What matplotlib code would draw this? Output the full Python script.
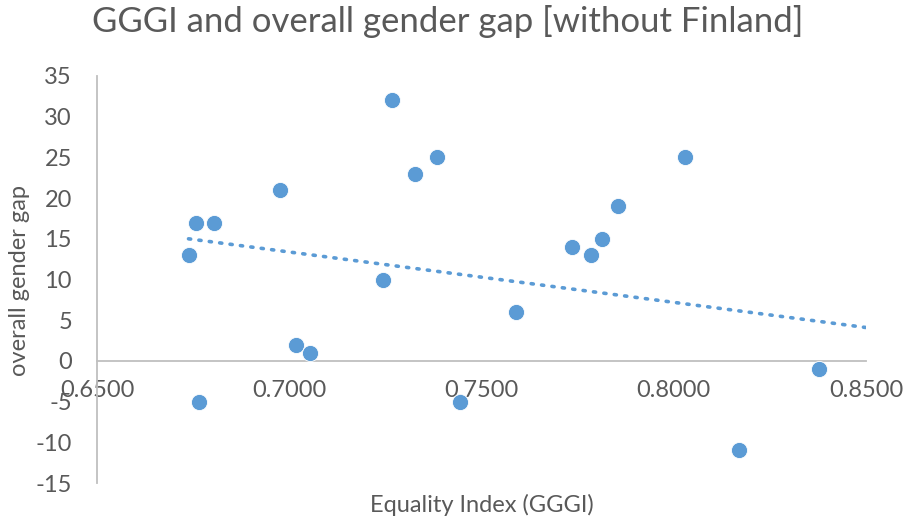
from matplotlib import pyplot as plt

# GGGI score and overall gender gap
gggi = [0.6738, 0.6758, 0.6805, 0.6764, 0.6975, 0.7017, 0.7054, 0.7244, 0.7268, 0.7328,
        0.7385, 0.7445, 0.7591, 0.7735, 0.7785, 0.7813, 0.7855, 0.8030, 0.8171, 0.8377]
gap = [13, 17, 17, -5, 21, 2, 1, 10, 32, 23,
       25, -5, 6, 14, 13, 15, 19, 25, -11, -1]

# linear trendline as drawn in the chart (start and end)
trend_x = [0.6738, 0.85]
trend_y = [15.0, 4.1]

x_ticks = [0.65, 0.70, 0.75, 0.80, 0.85]
y_ticks = [-15, -10, -5, 0, 5, 10, 15, 20, 25, 30, 35]

blue = "#5B9BD5"
grey_text = "#595959"
plt.rcParams["font.family"] = ["Lato", "DejaVu Sans"]
plt.rcParams["axes.unicode_minus"] = False

fig = plt.figure(figsize=(9.05, 5.21), dpi=100)
ax = fig.add_axes([97 / 905, 1 - 483 / 521, (866 - 97) / 905, (483 - 76) / 521])

ax.scatter(gggi, gap, s=135, c=blue, edgecolors="white", linewidths=0.6, zorder=3)
ax.plot(trend_x, trend_y, color=blue, lw=2.6, linestyle=(0, (0.6, 2.3)),
        dash_capstyle="round", zorder=2)

ax.set_xlim(0.65, 0.85)
ax.set_ylim(-15, 35)
ax.set_xticks(x_ticks)
ax.set_xticklabels([f"{v:.4f}" for v in x_ticks])
ax.set_yticks(y_ticks)

for s in ["top", "right"]:
    ax.spines[s].set_visible(False)
ax.spines["bottom"].set_position(("data", 0))
for s in ["left", "bottom"]:
    ax.spines[s].set_color("#BFBFBF")
    ax.spines[s].set_linewidth(1.3)

ax.tick_params(axis="both", length=0, labelsize=17, labelcolor=grey_text)
ax.tick_params(axis="x", pad=14)
ax.tick_params(axis="y", pad=18)

fig.text(482 / 905, 1 - 505 / 521, "Equality Index (GGGI)",
         ha="center", va="center", fontsize=17, color=grey_text)
fig.text(20 / 905, 1 - 280 / 521, "overall gender gap", rotation=90,
         ha="center", va="center", fontsize=17, color=grey_text)
fig.text(448 / 905, 1 - 22 / 521, "GGGI and overall gender gap [without Finland]",
         ha="center", va="center", fontsize=25, color=grey_text)

fig.savefig("out.png", dpi=100)
